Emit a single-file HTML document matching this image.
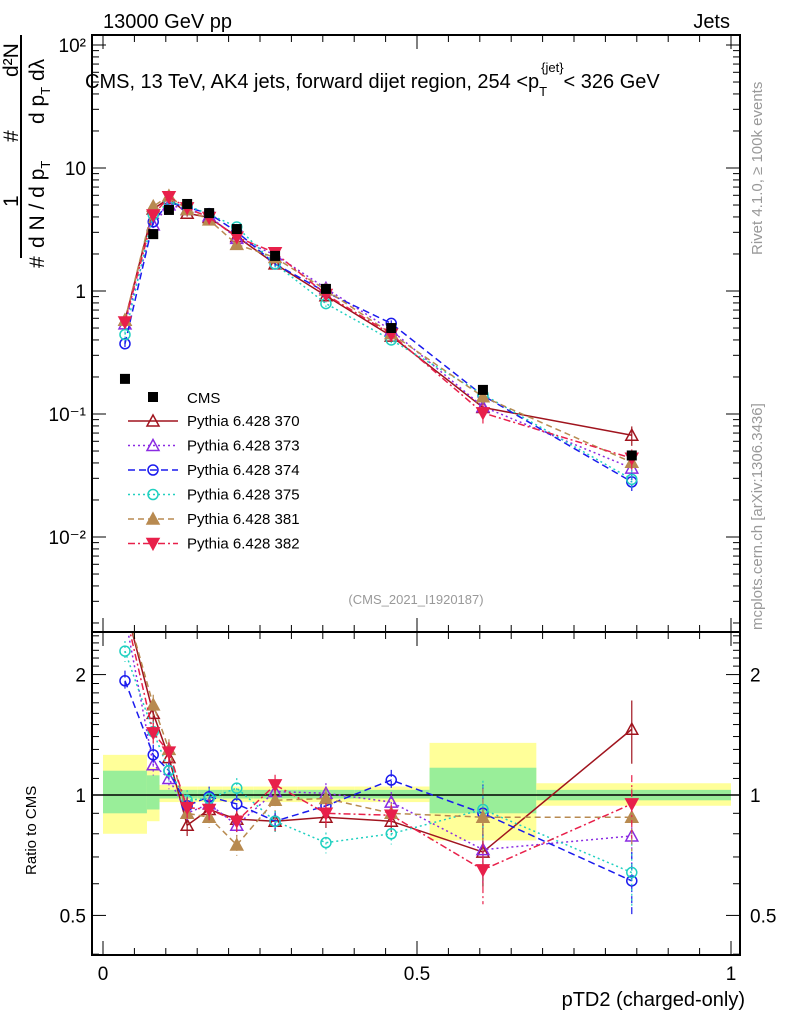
<!DOCTYPE html>
<html><head><meta charset="utf-8"><style>
body{margin:0;background:#fff}
svg{display:block;font-family:"Liberation Sans",sans-serif}
</style></head><body>
<svg id="c" width="786" height="1024" viewBox="0 0 786 1024" xmlns="http://www.w3.org/2000/svg">
<text x="103" y="28" font-size="20">13000 GeV pp</text>
<text x="730" y="28" font-size="20" text-anchor="end">Jets</text>
<text x="85" y="88" font-size="20">CMS, 13 TeV, AK4 jets, forward dijet region, 254 &lt;p<tspan font-size="13" dy="8">T</tspan><tspan font-size="13" dy="-24" dx="-6">{jet}</tspan><tspan dy="16">&lt; 326 GeV</tspan></text>
<text transform="translate(762,255) rotate(-90)" font-size="15" fill="#999">Rivet 4.1.0, ≥ 100k events</text>
<text transform="translate(762,630) rotate(-90)" font-size="15" fill="#999">mcplots.cern.ch [arXiv:1306.3436]</text>
<text x="416" y="604" font-size="13" fill="#999" text-anchor="middle">(CMS_2021_I1920187)</text>
<g font-size="21">
<line x1="21" y1="35" x2="21" y2="258" stroke="#000" stroke-width="2"/>
<text transform="translate(18,77) rotate(-90)">d²N</text>
<text transform="translate(18,142) rotate(-90)">#</text>
<text transform="translate(18,207) rotate(-90)">1</text>
<text transform="translate(44,268) rotate(-90)">#</text>
<text transform="translate(44,248) rotate(-90)">d N / d p<tspan font-size="13" dy="6">T</tspan></text>
<text transform="translate(44,124) rotate(-90)">d p<tspan font-size="13" dy="6">T</tspan><tspan dy="-6"> dλ</tspan></text>
</g>
<text transform="translate(36,875) rotate(-90)" font-size="15">Ratio to CMS</text>
<text x="745" y="1006" font-size="20" text-anchor="end">pTD2 (charged-only)</text>
<g id="g"></g>
</svg>
<script>
const xEdges=[0,0.07,0.09,0.12,0.15,0.19,0.24,0.31,0.40,0.52,0.69,1.0];
const xCenters=[0.035,0.08,0.105,0.134,0.169,0.213,0.274,0.355,0.459,0.605,0.842];
const cmsValues=[0.193,2.9,4.56,5.1,4.3,3.19,1.93,1.04,0.5,0.157,0.046];
const bandYellowLo=[0.8,0.86,0.96,0.96,0.96,0.96,0.96,0.96,0.96,0.77,0.94];
const bandYellowHi=[1.26,1.17,1.06,1.05,1.05,1.05,1.05,1.05,1.05,1.35,1.07];
const bandGreenLo=[0.9,0.92,0.98,0.98,0.98,0.98,0.98,0.98,0.98,0.9,0.97];
const bandGreenHi=[1.15,1.12,1.03,1.03,1.03,1.03,1.03,1.03,1.03,1.17,1.03];
const r370=[3.0,1.6,1.24,0.84,0.92,0.87,0.86,0.88,0.86,0.72,1.46];
const r373=[2.8,1.19,1.1,0.9,0.95,0.84,1.02,1.01,0.96,0.73,0.79];
const r374=[1.93,1.26,1.15,0.94,0.99,0.95,0.86,0.94,1.09,0.9,0.61];
const r375=[2.29,1.44,1.15,0.97,0.98,1.04,0.86,0.76,0.8,0.92,0.64];
const r381=[3.0,1.68,1.3,0.9,0.88,0.75,0.97,0.98,0.9,0.88,0.88];
const r382=[2.9,1.43,1.28,0.93,0.92,0.86,1.06,0.9,0.89,0.65,0.95];
const seriesNames=["Pythia 6.428 370","Pythia 6.428 373","Pythia 6.428 374","Pythia 6.428 375","Pythia 6.428 381","Pythia 6.428 382"];
const NS="http://www.w3.org/2000/svg",G=document.getElementById('g');
const X=v=>103+v*628, YM=v=>291-123*Math.log10(v), YR=v=>795-400*Math.log10(v);
const L=92,R=740,MT=35,MB=632,RB=955;
function el(t,a,p){const e=document.createElementNS(NS,t);for(const k in a)e.setAttribute(k,a[k]);(p||G).appendChild(e);return e;}
const defs=el('defs',{});
const c1=el('clipPath',{id:'cm'},defs);el('rect',{x:L,y:MT,width:R-L,height:MB-MT},c1);
const c2=el('clipPath',{id:'cr'},defs);el('rect',{x:L,y:MB,width:R-L,height:RB-MB},c2);
const gm=el('g',{'clip-path':'url(#cm)'}),gr=el('g',{'clip-path':'url(#cr)'});
for(let i=0;i<xCenters.length;i++){
 const b=el('rect',{x:X(xEdges[i]),y:YR(bandYellowHi[i]),width:X(xEdges[i+1])-X(xEdges[i]),height:YR(bandYellowLo[i])-YR(bandYellowHi[i]),fill:'#ffff99'},gr);
 
 
 const g2=el('rect',{x:X(xEdges[i]),y:YR(bandGreenHi[i]),width:X(xEdges[i+1])-X(xEdges[i]),height:YR(bandGreenLo[i])-YR(bandGreenHi[i]),fill:'#99ee99'},gr);
 
 
}
el('line',{x1:L,x2:R,y1:YR(1),y2:YR(1),stroke:'#000','stroke-width':1.5},gr);
for(const [t,b] of [[MT,MB],[MB,RB]]){const f=el('rect',{x:L,y:t,width:R-L,height:b-t,fill:'none',stroke:'#000','stroke-width':2});
 
 }
for(let v=0;v<=1.0001;v+=0.05){const big=Math.abs(v*2-Math.round(v*2))<1e-6;const h=big?14:7;
 for(const [t,b] of [[MT,MB],[MB,RB]]){el('line',{x1:X(v),x2:X(v),y1:t,y2:t+h,stroke:'#000'});el('line',{x1:X(v),x2:X(v),y1:b,y2:b-h,stroke:'#000'});}}
const xLabels=["0","0.5","1"];
xLabels.forEach((s,i)=>{const t=el('text',{x:X(i*0.5),y:980,'font-size':19,'text-anchor':'middle'});t.textContent=s;
 
 });
for(let d=-3;d<=2;d++)for(let m=1;m<10;m++){const v=m*Math.pow(10,d);const y=YM(v);if(y<MT||y>MB)continue;const h=m==1?14:7;
 el('line',{x1:L,x2:L+h,y1:y,y2:y,stroke:'#000'});el('line',{x1:R,x2:R-h,y1:y,y2:y,stroke:'#000'});}
const mainTickVals=[100,10,1,0.1,0.01];
const mainTickLabels=["10²","10","1","10⁻¹","10⁻²"];
mainTickVals.forEach((v,i)=>{const t=el('text',{x:86,y:YM(v)+7,'font-size':19,'text-anchor':'end'});t.textContent=mainTickLabels[i];
 
 });
for(let v=0.4;v<=2.6;v+=0.1){const y=YR(v);if(y<MB||y>RB)continue;const big=Math.abs(v-0.5)<1e-6||Math.abs(v-1)<1e-6||Math.abs(v-2)<1e-6;const h=big?14:7;
 el('line',{x1:L,x2:L+h,y1:y,y2:y,stroke:'#000'});el('line',{x1:R,x2:R-h,y1:y,y2:y,stroke:'#000'});}
const ratioTickVals=[2,1,0.5];
ratioTickVals.forEach(v=>{for(const [x,a] of [[86,'end'],[750,'start']]){const t=el('text',{x:x,y:YR(v)+7,'font-size':19,'text-anchor':a});t.textContent=String(v);
 
 }});
const styles=[
 {c:'#a0141e',d:'',m:'tri',f:'none'},
 {c:'#8a2be2',d:'2,3',m:'tri',f:'none'},
 {c:'#1a1aee',d:'7,4',m:'circ',f:'none'},
 {c:'#20d0c0',d:'2,3',m:'circ',f:'none'},
 {c:'#b88a50',d:'6,4',m:'tri',f:'#b88a50'},
 {c:'#e8204a',d:'7,3,2,3',m:'dtri',f:'#e8204a'}];
const ratios=[r370,r373,r374,r375,r381,r382];
function marker(p,s,x,y){
 if(s.m=='circ')return el('circle',{cx:x,cy:y,r:5,fill:'none',stroke:s.c,'stroke-width':1.5},p);
 if(s.m=='tri')return el('path',{d:`M${x},${y-6}L${x+6},${y+5}L${x-6},${y+5}Z`,fill:s.f,stroke:s.c,'stroke-width':1.5},p);
 return el('path',{d:`M${x},${y+6}L${x+6},${y-5}L${x-6},${y-5}Z`,fill:s.f,stroke:s.c,'stroke-width':1.5},p);}
ratios.forEach((r,k)=>{const s=styles[k];
 const mv=r.map((q,i)=>q*cmsValues[i]);
 for(const [p,Y,vals] of [[gm,YM,mv],[gr,YR,r]]){
  const pl=el('polyline',{points:vals.map((v,i)=>X(xCenters[i])+','+Y(v)).join(' '),fill:'none',stroke:s.c,'stroke-width':1.5,'stroke-dasharray':s.d},p);
  
  
  vals.forEach((v,i)=>{const x=X(xCenters[i]),y=Y(v);const e=0.06+0.12*(i>=9?1:0);
   el('line',{x1:x,x2:x,y1:Y(v*(1+e)),y2:Y(v*(1-e)),stroke:s.c,'stroke-width':1.2,'stroke-dasharray':s.d},p);
   const mk=marker(p,s,x,y);
   
   });
 }});
cmsValues.forEach((v,i)=>{const sq=el('rect',{x:X(xCenters[i])-5,y:YM(v)-5,width:10,height:10,fill:'#000'},gm);
 
 });
const lg=el('g',{});


el('rect',{x:148,y:392,width:10,height:10,fill:'#000'},lg);
const ct=el('text',{x:187,y:403,'font-size':15},lg);ct.textContent='CMS';
seriesNames.forEach((n,k)=>{const y=421+k*24.5,s=styles[k];
 el('line',{x1:128,x2:178,y1:y,y2:y,stroke:s.c,'stroke-width':1.5,'stroke-dasharray':s.d},lg);
 marker(lg,s,153,y);
 const t=el('text',{x:187,y:y+5,'font-size':15},lg);t.textContent=n;
 
 });
</script>
</body></html>
